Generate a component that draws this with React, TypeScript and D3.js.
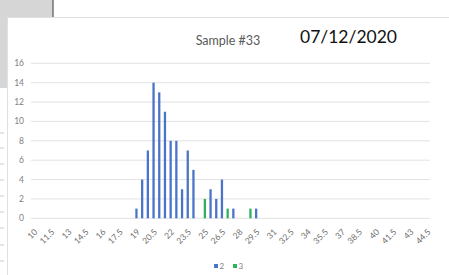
import * as d3 from "d3";
import { useEffect, useRef } from "react";

// bins of the histogram (every 0.5)
const categories = [
  "10", "10.5", "11", "11.5", "12", "12.5", "13", "13.5", "14", "14.5",
  "15", "15.5", "16", "16.5", "17", "17.5", "18", "18.5", "19", "19.5",
  "20", "20.5", "21", "21.5", "22", "22.5", "23", "23.5", "24", "24.5",
  "25", "25.5", "26", "26.5", "27", "27.5", "28", "28.5", "29", "29.5",
  "30", "30.5", "31", "31.5", "32", "32.5", "33", "33.5", "34", "34.5",
  "35", "35.5", "36", "36.5", "37", "37.5", "38", "38.5", "39", "39.5",
  "40", "40.5", "41", "41.5", "42", "42.5", "43", "43.5", "44", "44.5",
];

// counts by bin, series "2" (blue)
const series2: [string, number][] = [
  ["19", 1], ["19.5", 4], ["20", 7], ["20.5", 14], ["21", 13], ["21.5", 11],
  ["22", 8], ["22.5", 8], ["23", 3], ["23.5", 7], ["24", 5],
  ["25.5", 3], ["26", 2], ["26.5", 4], ["27.5", 1], ["29.5", 1],
];

// counts by bin, series "3" (green)
const series3: [string, number][] = [
  ["25", 2], ["27", 1], ["29", 1],
];

const seriesNames = ["2", "3"];
const seriesColors = ["#4a74c6", "#2fb25c"];
const yTicks = [0, 2, 4, 6, 8, 10, 12, 14, 16];

// spreadsheet row lines peeking out on the left
const rowLines = [133, 148, 164, 180, 196, 212, 228, 245, 261];

const W = 449;
const H = 275;

export default function App() {
  const ref = useRef<SVGSVGElement>(null);

  useEffect(() => {
    const svg = d3.select(ref.current);
    svg.selectAll("*").remove();

    const font = "Lato, 'Liberation Sans', sans-serif";

    // background bits of the spreadsheet
    svg.append("rect").attr("width", W).attr("height", H).attr("fill", "#ffffff");
    svg.append("rect").attr("x", 0).attr("y", 0).attr("width", 53).attr("height", 17).attr("fill", "#d6d6d6");
    svg.append("rect").attr("x", 0).attr("y", 0).attr("width", 7).attr("height", 88).attr("fill", "#d6d6d6");
    svg.append("line").attr("x1", 53).attr("x2", 53).attr("y1", 0).attr("y2", 17)
      .attr("stroke", "#555").attr("stroke-width", 1.2);
    svg.selectAll(".row").data(rowLines).enter().append("line")
      .attr("x1", 0).attr("x2", 4).attr("y1", (d) => d).attr("y2", (d) => d)
      .attr("stroke", "#c8c8c8");

    // chart area
    svg.append("rect").attr("x", 7.5).attr("y", 17.5).attr("width", W).attr("height", H)
      .attr("fill", "#ffffff").attr("stroke", "#e0e0e0");

    const plot = { left: 31, right: 430, top: 63.3, bottom: 218.3 };

    const x = d3.scaleBand<string>().domain(categories).range([plot.left, plot.right]).paddingInner(0.6).paddingOuter(0.3);
    const y = d3.scaleLinear().domain([0, 16]).range([plot.bottom, plot.top]);

    // gridlines
    svg.selectAll(".grid").data(yTicks).enter().append("line")
      .attr("x1", plot.left).attr("x2", plot.right)
      .attr("y1", (d) => y(d)).attr("y2", (d) => y(d))
      .attr("stroke", "#e2e2e2").attr("stroke-width", 1);

    // y labels
    svg.selectAll(".ylab").data(yTicks).enter().append("text")
      .attr("x", 24).attr("y", (d) => y(d)).attr("dy", "0.35em")
      .attr("text-anchor", "end").attr("font-family", font).attr("font-size", 8.5)
      .attr("fill", "#7f7f7f").text((d) => d);

    // bars
    const allSeries = [series2, series3];
    allSeries.forEach((s, i) => {
      svg.selectAll(".bar" + i).data(s).enter().append("rect")
        .attr("x", (d) => x(d[0]) as number)
        .attr("y", (d) => y(d[1]))
        .attr("width", x.bandwidth())
        .attr("height", (d) => y(0) - y(d[1]))
        .attr("fill", seriesColors[i]);
    });

    // x labels every third bin, rotated
    const step = x.step();
    const labels = categories.filter((_, i) => i % 3 === 0);
    svg.selectAll(".xlab").data(labels).enter().append("text")
      .attr("transform", (d) => {
        const cx = (x(d) as number) + x.bandwidth() / 2 + step * 0.35;
        return "translate(" + cx + "," + 230.5 + ") rotate(-45)";
      })
      .attr("text-anchor", "end").attr("dy", "0.35em")
      .attr("font-family", font).attr("font-size", 8.5).attr("fill", "#6e6e6e")
      .text((d) => d);

    // title and date
    svg.append("text").attr("x", 228).attr("y", 45).attr("text-anchor", "middle")
      .attr("font-family", font).attr("font-size", 12.5).attr("fill", "#595959")
      .text("Sample #33");
    svg.append("text").attr("x", 300).attr("y", 43)
      .attr("font-family", font).attr("font-size", 17.5).attr("fill", "#111")
      .text("07/12/2020");

    // legend
    const legendX = [214, 233];
    seriesNames.forEach((n, i) => {
      svg.append("rect").attr("x", legendX[i]).attr("y", 264).attr("width", 4).attr("height", 4)
        .attr("fill", seriesColors[i]);
      svg.append("text").attr("x", legendX[i] + 5.5).attr("y", 266).attr("dy", "0.35em")
        .attr("font-family", font).attr("font-size", 8).attr("fill", "#7f7f7f").text(n);
    });
  }, []);

  return (
    <svg ref={ref} width={W} height={H} style={{ position: "absolute", left: 0, top: 0 }} />
  );
}
